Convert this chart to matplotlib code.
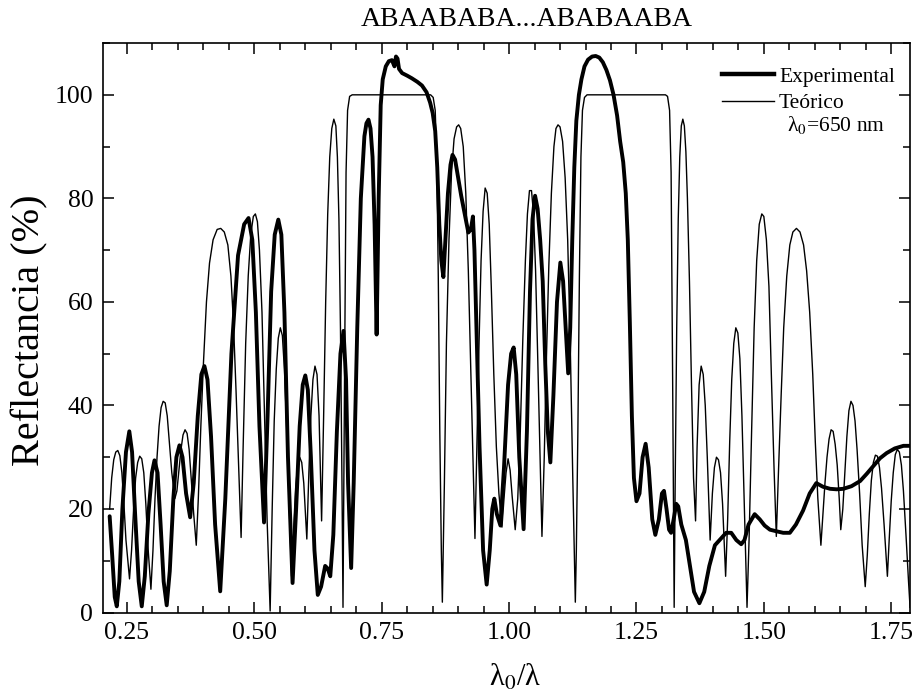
import matplotlib
matplotlib.use("Agg")
import matplotlib.pyplot as plt
from matplotlib.ticker import MultipleLocator
from matplotlib.lines import Line2D

plt.rcParams["font.family"] = ["Liberation Serif", "DejaVu Serif"]
plt.rcParams["mathtext.fontset"] = "stix"

# espectro teorico (lambda0/lambda, R %), un lobulo por linea
teo_x = [0.216, 0.220, 0.224, 0.228, 0.232, 0.236, 0.240, 0.244, 0.248, 0.255,
         0.259, 0.263, 0.267, 0.271, 0.275, 0.279, 0.283, 0.287, 0.291, 0.297,
         0.301, 0.305, 0.309, 0.313, 0.317, 0.321, 0.325, 0.329, 0.333, 0.338, 0.344,
         0.348, 0.352, 0.356, 0.360, 0.364, 0.368, 0.372, 0.376, 0.381, 0.386,
         0.390, 0.395, 0.400, 0.406, 0.412, 0.419, 0.427, 0.434, 0.441, 0.448, 0.454, 0.459, 0.464, 0.469, 0.474,
         0.478, 0.483, 0.488, 0.493, 0.498, 0.502, 0.506, 0.510, 0.515, 0.520, 0.525, 0.531,
         0.535, 0.539, 0.543, 0.547, 0.551, 0.555, 0.559, 0.563, 0.568, 0.573,
         0.577, 0.581, 0.585, 0.589, 0.593, 0.597, 0.603,
         0.607, 0.611, 0.615, 0.619, 0.623, 0.627, 0.632,
         0.636, 0.640, 0.644, 0.648, 0.652, 0.656, 0.660, 0.663, 0.666, 0.669, 0.672, 0.674,
         0.677, 0.680, 0.683, 0.687, 0.692, 0.846, 0.851, 0.855, 0.858, 0.861, 0.864, 0.867, 0.869,
         0.873, 0.877, 0.882, 0.887, 0.892, 0.897, 0.901, 0.905, 0.910, 0.915, 0.920, 0.925, 0.929, 0.933,
         0.937, 0.941, 0.945, 0.949, 0.953, 0.957, 0.961, 0.965, 0.970, 0.975, 0.980, 0.986,
         0.990, 0.994, 0.998, 1.002, 1.006, 1.012,
         1.017, 1.022, 1.027, 1.032, 1.036, 1.040, 1.044, 1.048, 1.052, 1.056, 1.060, 1.0645,
         1.069, 1.073, 1.078, 1.083, 1.088, 1.092, 1.096, 1.100, 1.105, 1.110, 1.115, 1.120, 1.125, 1.130,
         1.132, 1.135, 1.138, 1.141, 1.144, 1.148, 1.153, 1.307, 1.311, 1.315, 1.318, 1.321, 1.324,
         1.326, 1.329, 1.332, 1.335, 1.338, 1.341, 1.344, 1.347, 1.350, 1.354, 1.358, 1.362, 1.366,
         1.369, 1.373, 1.377, 1.381, 1.385, 1.389, 1.3946,
         1.399, 1.403, 1.407, 1.411, 1.415, 1.419, 1.425,
         1.429, 1.433, 1.437, 1.441, 1.445, 1.449, 1.453, 1.457, 1.461, 1.467,
         1.471, 1.476, 1.481, 1.486, 1.491, 1.496, 1.500, 1.505, 1.510, 1.515, 1.520, 1.5245,
         1.529, 1.534, 1.539, 1.545, 1.551, 1.557, 1.564, 1.571, 1.578, 1.584, 1.590, 1.596, 1.601, 1.606, 1.612,
         1.616, 1.620, 1.624, 1.628, 1.632, 1.636, 1.640, 1.644, 1.648, 1.651,
         1.655, 1.659, 1.663, 1.667, 1.671, 1.675, 1.679, 1.683, 1.688, 1.693, 1.699,
         1.703, 1.707, 1.711, 1.715, 1.719, 1.723, 1.727, 1.731, 1.736, 1.7425,
         1.746, 1.750, 1.754, 1.758, 1.762, 1.766, 1.770, 1.774, 1.779, 1.784, 1.787]
teo_r = [20, 26, 29.5, 31, 31.3, 30.3, 27, 21, 14, 6.5,
         12, 20, 26, 29, 30.2, 29.7, 27, 21, 13, 4.5,
         12, 22, 30, 36, 39.6, 40.8, 40.5, 38, 33, 27, 22,
         23.5, 27.5, 31.5, 34.3, 35.3, 34.6, 31.5, 26, 19, 13,
         22, 36, 48, 60, 67.5, 72, 74, 74.2, 73.5, 71, 65, 56, 43, 29, 14.5,
         32, 52, 65, 73, 76.5, 77, 75.5, 70, 58, 38, 18, 0.3,
         20, 37, 47, 53, 55, 53.5, 47, 37, 22, 7,
         16, 24, 28.5, 30, 29, 25, 14.2,
         27, 38, 45, 47.6, 46, 38, 17.7,
         38, 60, 77, 88, 93.5, 95.3, 94, 88, 76, 55, 25, 1,
         45, 85, 97, 99.7, 100, 100, 99.5, 97, 88, 65, 35, 12, 2,
         25, 52, 72, 85, 91.5, 93.8, 94.2, 93.5, 90, 81, 66, 46, 30, 14.3,
         33, 52, 68, 77.5, 82, 81, 75, 63, 46, 32, 23, 16.5,
         22, 27, 29.7, 27.5, 22.5, 16,
         22, 35, 53, 68, 77, 81.5, 81.5, 77, 66, 50, 33, 14.7,
         30, 48, 67, 81, 90, 93.5, 94.2, 93.8, 91, 84, 72, 52, 26, 2,
         12, 35, 65, 88, 97, 99.5, 100, 100, 99.7, 97, 85, 45, 1,
         25, 55, 76, 88, 94, 95.3, 94, 89, 80, 64, 44, 26, 17.7,
         32, 44, 47.6, 46, 40, 30, 14,
         23, 28, 30, 29.5, 27, 21, 7,
         18, 33, 45, 52, 55, 54, 49, 38, 23, 1,
         14, 35, 55, 68, 75, 77, 76.5, 72, 63, 45, 28, 14.7,
         28, 42, 55, 65, 71, 73.5, 74.2, 73.5, 71, 66, 58, 46, 33, 22, 13,
         19, 25, 30, 33.5, 35.3, 35, 32.5, 28.5, 22, 16,
         20, 27, 34, 39, 40.8, 40, 37, 31.5, 23, 13, 5,
         11, 19, 25.5, 29, 30.4, 30.2, 28, 24, 17, 7,
         14, 21.5, 27, 30.5, 31.5, 31, 28.5, 23.5, 15, 6, 1]

# espectro medido
exp_x = [0.216, 0.221, 0.226, 0.230, 0.235, 0.241, 0.248, 0.2546, 0.260, 0.266,
         0.273, 0.279, 0.285, 0.292, 0.299, 0.304, 0.310, 0.316, 0.322, 0.328,
         0.334, 0.341, 0.347, 0.353, 0.359, 0.366, 0.374, 0.381, 0.389, 0.396,
         0.402, 0.408, 0.415, 0.423, 0.433, 0.443, 0.455, 0.468, 0.480, 0.4886,
         0.496, 0.503, 0.510, 0.519, 0.526, 0.533, 0.540, 0.547, 0.553, 0.559,
         0.566, 0.575, 0.582, 0.589, 0.595, 0.600, 0.605, 0.611, 0.618, 0.6245,
         0.631, 0.639, 0.644, 0.649, 0.655, 0.662, 0.669, 0.675, 0.680, 0.684,
         0.690, 0.695, 0.702, 0.709, 0.716, 0.720, 0.724, 0.728, 0.732, 0.736,
         0.740, 0.744, 0.748, 0.752, 0.758, 0.764, 0.770, 0.775, 0.778, 0.781,
         0.784, 0.790, 0.800, 0.809, 0.820, 0.829, 0.838, 0.845, 0.850, 0.855,
         0.859, 0.863, 0.867, 0.871, 0.875, 0.880, 0.885, 0.889, 0.894, 0.900,
         0.906, 0.913, 0.920, 0.925, 0.929, 0.932, 0.936, 0.942, 0.949, 0.956,
         0.962, 0.967, 0.971, 0.976, 0.983, 0.990, 0.998, 1.004, 1.009, 1.014,
         1.020, 1.0285, 1.035, 1.041, 1.046, 1.051, 1.056, 1.061, 1.066, 1.071,
         1.076, 1.081, 1.087, 1.094, 1.1006, 1.106, 1.111, 1.116, 1.120, 1.124,
         1.128, 1.132, 1.137, 1.142, 1.148, 1.155, 1.163, 1.170, 1.177, 1.184,
         1.191, 1.198, 1.205, 1.212, 1.218, 1.224, 1.229, 1.233, 1.237, 1.241,
         1.245, 1.250, 1.256, 1.262, 1.268, 1.274, 1.281, 1.287, 1.294, 1.300,
         1.304, 1.309, 1.314, 1.318, 1.323, 1.328, 1.332, 1.338, 1.347, 1.355,
         1.363, 1.3735, 1.383, 1.393, 1.404, 1.416, 1.426, 1.436, 1.446, 1.4556,
         1.462, 1.470, 1.482, 1.492, 1.5016, 1.512, 1.5245, 1.538, 1.551, 1.563,
         1.577, 1.590, 1.603, 1.616, 1.630, 1.643, 1.656, 1.672, 1.689, 1.702,
         1.715, 1.728, 1.741, 1.757, 1.774, 1.787]
exp_r = [18.6, 11, 3, 1.2, 6, 20, 31, 35, 31, 19,
         6, 1.2, 7, 19, 27, 29.4, 27, 17, 6, 1.4,
         8, 22, 30, 32.3, 30, 23, 18.4, 25, 38, 46,
         47.6, 45, 34, 17, 4.1, 22, 50, 69, 75, 76.2,
         72, 58, 36, 17.4, 38, 62, 73, 75.9, 73, 58,
         30, 5.7, 20, 36, 44, 45.8, 43, 30, 12, 3.4,
         5, 9, 8.5, 7, 15, 35, 50, 54.4, 45, 25,
         8.6, 25, 55, 80, 92, 94.5, 95.2, 93.5, 88, 75,
         53.7, 80, 98, 103, 105.5, 106.5, 106.7, 105.5, 107.4, 107,
         105, 104.2, 103.7, 103.2, 102.5, 101.8, 100.5, 98.5, 96.5, 93,
         86, 75, 68, 64.8, 72, 81, 86.5, 88.4, 87.5, 84,
         80.5, 77, 73.4, 74, 76.5, 70, 55, 32, 12, 5.4,
         12, 20, 22, 19, 16.8, 28, 44, 50, 51.2, 46,
         30, 16.1, 35, 62, 76, 80.5, 78, 72, 64, 48,
         35, 29, 42, 60, 67.6, 64, 55, 46.2, 55, 72,
         86, 95, 100, 103, 105.5, 106.8, 107.4, 107.5, 107.2, 106.3,
         104.8, 102.8, 100, 96, 91, 87, 81, 72, 56, 38,
         26, 21.5, 23, 30, 32.6, 28, 18, 15, 18, 23,
         23.5, 20, 16, 15.4, 18, 21, 20.5, 17, 14, 9,
         4, 1.8, 4, 9, 13, 14.3, 15.4, 15.4, 14, 13.2,
         14, 17, 19, 18, 16.8, 16, 15.7, 15.4, 15.4, 17,
         19.7, 23, 25, 24.3, 23.9, 23.8, 23.9, 24.4, 25.4, 26.8,
         28.3, 29.8, 30.8, 31.7, 32.2, 32.2]

fig = plt.figure(figsize=(9.15, 6.99), dpi=100)
ax = fig.add_axes([0.1126, 0.1237, 0.882, 0.8147])

ax.plot(teo_x, teo_r, color="black", lw=1.0, solid_joinstyle="round")
ax.plot(exp_x, exp_r, color="black", lw=2.8, solid_joinstyle="round",
        solid_capstyle="round")

ax.set_xlim(0.203, 1.787)
ax.set_ylim(0, 110)
ax.xaxis.set_major_locator(MultipleLocator(0.25))
ax.xaxis.set_minor_locator(MultipleLocator(0.05))
ax.yaxis.set_major_locator(MultipleLocator(20))
ax.yaxis.set_minor_locator(MultipleLocator(10))
ax.xaxis.set_major_formatter(plt.FuncFormatter(lambda v, p: f"{v:.2f}"))
ax.tick_params(which="both", direction="in", top=True, right=True,
               width=1.1, labelsize=18.5, pad=7)
ax.tick_params(which="major", length=8)
ax.tick_params(which="minor", length=5)
for s in ax.spines.values():
    s.set_linewidth(1.2)

fig.text(527 / 915, 1 - 20 / 699, "ABAABABA...ABABAABA", fontsize=20,
         ha="center", va="center")
fig.text(30 / 915, 1 - 330 / 699, "Reflectancia (%)", fontsize=29,
         rotation=90, ha="center", va="center")
fig.text(515 / 915, 1 - 678 / 699, "λ$_0$/λ", fontsize=22,
         ha="center", va="center")

handles = [Line2D([], [], color="black", lw=3.2),
           Line2D([], [], color="black", lw=1.0)]
ax.legend(handles, ["Experimental", "Teórico"], loc="upper right",
          bbox_to_anchor=(1.0, 0.985), frameon=False, fontsize=15.5,
          handlelength=2.4, handletextpad=0.25, labelspacing=0.3,
          borderaxespad=0.3)
fig.text(787 / 915, 1 - 125 / 699, "λ$_0$=650 nm", fontsize=15.5,
         ha="left", va="center")

fig.savefig("out.png", dpi=100)
